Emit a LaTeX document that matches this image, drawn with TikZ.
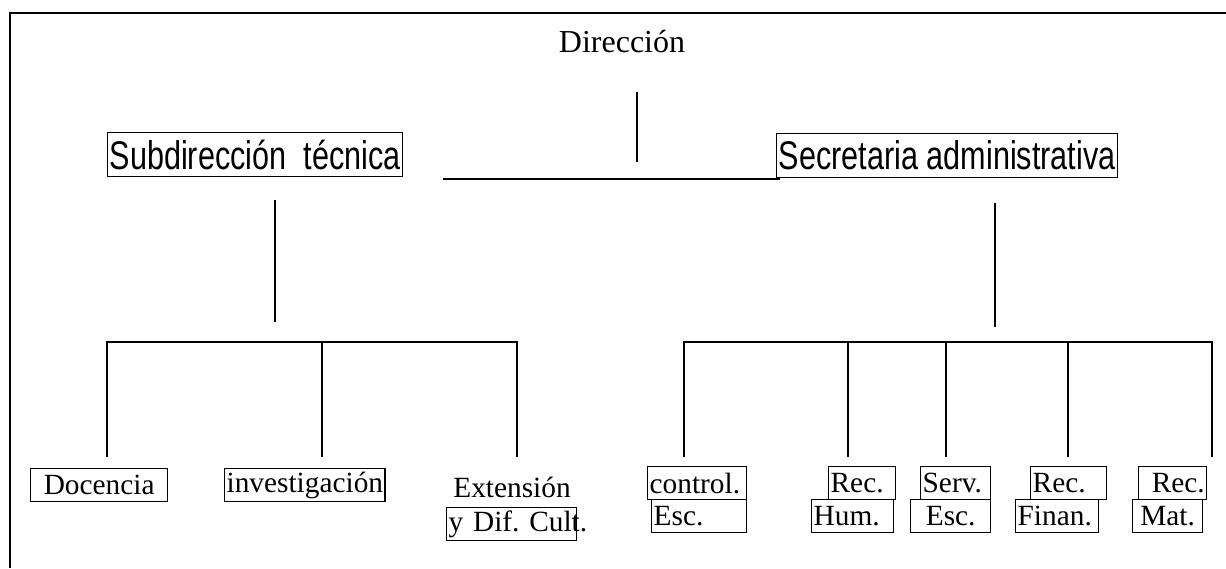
\documentclass[tikz,border=0pt]{standalone}
\usepackage{fontspec}
\setmainfont{Liberation Serif}
\newfontfamily\narrowsans[FakeStretch=0.765]{Liberation Sans}
\newcommand\lblsize{\fontsize{22pt}{24pt}\selectfont}
\newcommand\topsize{\fontsize{24pt}{28pt}\selectfont}
\newcommand\midsize{\narrowsans\fontsize{30pt}{34pt}\selectfont}
\frenchspacing
\begin{document}
\begin{tikzpicture}[x=0.75pt,y=-0.75pt,
  ln/.style={line width=1.5pt},
  bx/.style={draw, line width=1pt, inner xsep=1.5pt, inner ysep=0pt, font=\lblsize, anchor=north west, minimum height=24.75pt},
  bigbx/.style={draw, line width=1pt, inner xsep=1.5pt, inner ysep=0pt, font=\midsize, anchor=north west, minimum height=33pt},
  plain/.style={inner sep=0pt, anchor=base}
]
\useasboundingbox (0,0) rectangle (1226,568);
% frame
\coordinate (fbl) at (10,568);
\coordinate (ftl) at (10,13);
\coordinate (ftr) at (1226,13);
\draw[ln] (fbl) -- (ftl) -- (ftr);

% top level
\node (dir) [plain, font=\topsize] at (622,52) {Dirección};
\node (sub) [bigbx, minimum width=220.5pt] at (107,132) {Subdirección~ técnica};
\node (sec) [bigbx, minimum width=255.75pt] at (776,133) {Secretaria administrativa};

% bottom left
\node (doc) [bx, minimum width=102.75pt] at (30,468) {Docencia};
\node (inv) [bx, minimum width=120pt] at (224,468) {investigación};
\node (ext) [plain, font=\lblsize] at (512,497) {Extensión};
\node (dif) [bx, minimum width=97.5pt, text width=94.5pt, align=left] at (446,507) {\mbox{y Dif. Cult}\rlap{.}};

% bottom right
\node (ctl) [bx, minimum width=74.25pt, text width=71.25pt, align=left] at (647,466) {control.};
\node (esc1) [bx, minimum width=71.25pt, text width=68.25pt, align=left] at (651,499) {Esc.};
\node (rech) [bx, minimum width=50.25pt, text width=47.25pt, align=left] at (828,466) {Rec.};
\node (hum) [bx, minimum width=61.5pt, text width=58.5pt, align=left] at (811,499) {Hum.};
\node (serv) [bx, minimum width=52.5pt, text width=49.5pt, align=left] at (920,466) {Serv.};
\node (esc2) [bx, minimum width=60pt] at (910,499) {Esc.};
\node (recf) [bx, minimum width=57pt, text width=54pt, align=left] at (1030,466) {Rec.};
\node (fin) [bx, minimum width=62.25pt, text width=59.25pt, align=left] at (1015,499) {Finan.};
\node (recm) [bx, minimum width=51pt, text width=48pt, align=right] at (1138,466) {Rec.};
\node (mat) [bx, minimum width=52.5pt] at (1132,499) {Mat.};

% connector points
\coordinate (d1) at (637,92);   \coordinate (d2) at (637,162);
\coordinate (h1) at (443,179);  \coordinate (h2) at (780,179);
\coordinate (s1) at (275,200);  \coordinate (s2) at (275,322);
\coordinate (t1) at (995,203);  \coordinate (t2) at (995,327);
\coordinate (la) at (107,342);  \coordinate (lb) at (322,342);  \coordinate (lc) at (517,342);
\coordinate (la2) at (107,457); \coordinate (lb2) at (322,457); \coordinate (lc2) at (517,457);
\coordinate (ra) at (684,342);  \coordinate (rb) at (848,342);  \coordinate (rc) at (946,342);
\coordinate (rd) at (1068,342); \coordinate (re) at (1212,342);
\coordinate (ra2) at (684,457); \coordinate (rb2) at (848,457); \coordinate (rc2) at (946,457);
\coordinate (rd2) at (1068,457); \coordinate (re2) at (1212,457);

\draw[ln] (d1) -- (d2);
\draw[ln] (h1) -- (h2);
\draw[ln] (s1) -- (s2);
\draw[ln] (t1) -- (t2);
\draw[ln] (la2) -- (la) -- (lc) -- (lc2);
\draw[ln] (lb) -- (lb2);
\draw[ln] (ra2) -- (ra) -- (re) -- (re2);
\draw[ln] (rb) -- (rb2);
\draw[ln] (rc) -- (rc2);
\draw[ln] (rd) -- (rd2);
\end{tikzpicture}
\end{document}
